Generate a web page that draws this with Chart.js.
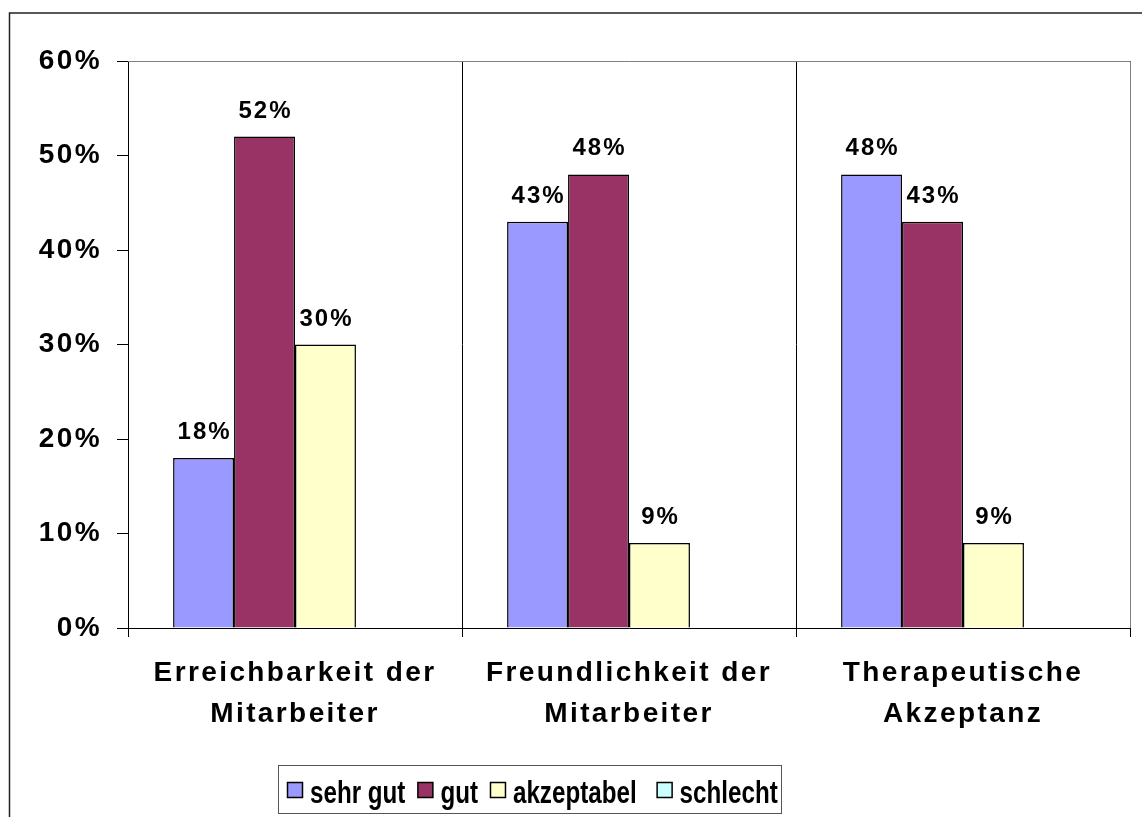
<!DOCTYPE html>
<html>
<head>
<meta charset="utf-8">
<script src="https://cdn.jsdelivr.net/npm/chart.js@4.4.1/dist/chart.umd.min.js"></script>
<style>
html,body{margin:0;padding:0;background:#fff;}
canvas{display:block;}
</style>
</head>
<body>
<canvas id="c" width="1142" height="817"></canvas>
<script>
const categories = [
  ['Erreichbarkeit der', 'Mitarbeiter'],
  ['Freundlichkeit der', 'Mitarbeiter'],
  ['Therapeutische', 'Akzeptanz']
];
const seriesNames = ['sehr gut', 'gut', 'akzeptabel', 'schlecht'];
const sehrGut = [18, 43, 48];
const gut = [52, 48, 43];
const akzeptabel = [30, 9, 9];
const schlecht = [0, 0, 0];
const seriesColors = ['#9999FF', '#993366', '#FFFFCC', '#CCFFFF'];
const yMin = 0, yMax = 60, yStep = 10;

const FONT = '"Liberation Sans", Arial, sans-serif';

const framePlugin = {
  id: 'frame',
  beforeDraw(chart) {
    const ctx = chart.ctx;
    ctx.save();
    ctx.fillStyle = '#fff';
    ctx.fillRect(0, 0, chart.width, chart.height);
    ctx.restore();
    ctx.letterSpacing = '2.4px';
  },
  beforeDatasetsDraw(chart) {
    chart.ctx.letterSpacing = '0px';
    const ctx = chart.ctx, a = chart.chartArea;
    ctx.save();
    ctx.strokeStyle = '#808080';
    ctx.lineWidth = 1;
    ctx.beginPath();
    ctx.moveTo(a.left, a.top + 0.5);
    ctx.lineTo(a.right + 0.5, a.top + 0.5);
    ctx.lineTo(a.right + 0.5, a.bottom);
    ctx.stroke();
    ctx.restore();
  },
  afterDatasetsDraw(chart) {
    const ctx = chart.ctx;
    ctx.save();
    ctx.letterSpacing = '2px';
    ctx.font = 'bold 24px ' + FONT;
    ctx.fillStyle = '#000';
    ctx.textAlign = 'center';
    ctx.textBaseline = 'alphabetic';
    chart.data.datasets.forEach((ds, i) => {
      const meta = chart.getDatasetMeta(i);
      meta.data.forEach((bar, j) => {
        const v = ds.data[j];
        if (!v) return;
        ctx.fillText(v + '%', bar.x + 1, bar.y - 19);
      });
    });
    ctx.restore();
  },
  afterDraw(chart) {
    const ctx = chart.ctx;
    ctx.save();
    ctx.letterSpacing = '0px';
    // outer frame
    ctx.strokeStyle = '#222';
    ctx.lineWidth = 1.5;
    ctx.strokeRect(9.5, 13, 1300, 1000);
    // legend
    const lx = 278.5, ly = 765.5, lw = 503, lh = 48;
    ctx.fillStyle = '#fff';
    ctx.fillRect(lx, ly, lw, lh);
    ctx.strokeStyle = '#555';
    ctx.lineWidth = 1;
    ctx.strokeRect(lx, ly, lw, lh);
    ctx.font = 'bold 31px ' + FONT;
    ctx.textBaseline = 'alphabetic';
    ctx.textAlign = 'left';
    const sx = 0.78;
    let x = 287;
    chart.data.datasets.forEach((ds, i) => {
      ctx.fillStyle = ds.backgroundColor;
      ctx.fillRect(x + 0.5, 782.5, 15, 15);
      ctx.strokeStyle = '#000';
      ctx.lineWidth = 1.5;
      ctx.strokeRect(x + 0.5, 782.5, 15, 15);
      x += 23;
      ctx.fillStyle = '#000';
      ctx.save();
      ctx.translate(x, 803);
      ctx.scale(sx, 1);
      ctx.fillText(ds.label, 0, 0);
      ctx.restore();
      x += ctx.measureText(ds.label).width * sx + (i === 2 ? 20 : 12);
    });
    ctx.restore();
  }
};

const datasets = [sehrGut, gut, akzeptabel, schlecht].map((d, i) => ({
  label: seriesNames[i],
  data: d,
  backgroundColor: seriesColors[i],
  borderColor: '#000',
  borderWidth: 1.5,
  categoryPercentage: 0.73,
  barPercentage: 1.0
}));

new Chart(document.getElementById('c'), {
  type: 'bar',
  data: { labels: categories, datasets },
  plugins: [framePlugin],
  options: {
    responsive: false,
    animation: false,
    devicePixelRatio: 1,
    layout: { padding: { left: 0, right: 12, top: 61, bottom: 0 } },
    plugins: { legend: { display: false }, tooltip: { enabled: false } },
    scales: {
      x: {
        offset: true,
        grid: {
          offset: true,
          display: true,
          drawOnChartArea: true,
          drawTicks: true,
          tickLength: 9,
          color: (c) => (c.index === categories.length ? '#808080' : '#000'),
          lineWidth: 1
        },
        border: { display: true, color: '#000', width: 1 },
        ticks: {
          color: '#000',
          font: { family: FONT, size: 28, weight: 'bold', lineHeight: 1.46 },
          padding: 16,
          maxRotation: 0,
          autoSkip: false
        },
        afterFit(scale) { scale.height = 817 - 628; }
      },
      y: {
        min: yMin,
        max: yMax,
        ticks: {
          stepSize: yStep,
          color: '#000',
          font: { family: FONT, size: 28, weight: 'bold' },
          padding: 15,
          callback: (v) => v + '%'
        },
        grid: {
          display: true,
          drawOnChartArea: false,
          drawTicks: true,
          tickLength: 11,
          color: '#000'
        },
        border: { display: true, color: '#000', width: 1 },
        afterFit(scale) { scale.width = 128; }
      }
    }
  }
});
</script>
</body>
</html>
